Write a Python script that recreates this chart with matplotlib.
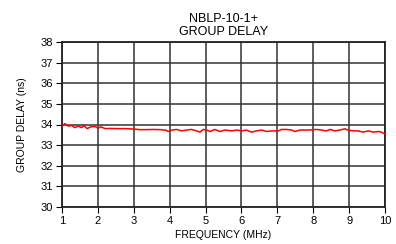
import matplotlib
matplotlib.use("Agg")
import matplotlib.pyplot as plt

plt.rcParams['font.family'] = ['Liberation Sans', 'DejaVu Sans']

freq = [1.00, 1.08, 1.18, 1.27, 1.36, 1.45, 1.55, 1.61, 1.70, 1.80, 1.92, 2.01, 2.08,
        2.20, 2.34, 2.52, 2.75, 2.99, 3.17, 3.36, 3.54, 3.73, 3.90,
        3.96, 4.06, 4.19, 4.33, 4.47, 4.61, 4.75, 4.84, 4.94, 5.03, 5.12, 5.26,
        5.40, 5.54, 5.73, 5.87, 6.01, 6.14, 6.28, 6.42, 6.56, 6.70, 6.84,
        6.93, 7.03, 7.12, 7.26, 7.40, 7.49, 7.63, 7.77, 7.96, 8.09, 8.23, 8.37,
        8.47, 8.60, 8.74, 8.88, 8.97, 9.11, 9.25, 9.39, 9.53, 9.67, 9.81, 9.90, 10.0]
delay = [33.93, 34.04, 33.92, 33.95, 33.85, 33.92, 33.85, 33.95, 33.80, 33.89, 33.90, 33.82, 33.89,
         33.80, 33.81, 33.80, 33.80, 33.78, 33.75, 33.75, 33.76, 33.75, 33.72,
         33.66, 33.73, 33.76, 33.69, 33.73, 33.76, 33.69, 33.63, 33.76, 33.73, 33.66, 33.76,
         33.66, 33.73, 33.69, 33.73, 33.69, 33.73, 33.63, 33.69, 33.73, 33.66, 33.69,
         33.69, 33.69, 33.76, 33.76, 33.73, 33.66, 33.73, 33.73, 33.74, 33.76, 33.73, 33.69,
         33.76, 33.69, 33.73, 33.79, 33.73, 33.69, 33.69, 33.63, 33.69, 33.63, 33.66, 33.63, 33.53]

xticks = [1, 2, 3, 4, 5, 6, 7, 8, 9, 10]
yticks = [30, 31, 32, 33, 34, 35, 36, 37, 38]

fig = plt.figure(figsize=(3.96, 2.44), dpi=100)
ax = fig.add_axes([62/396, 1-207/244, (385-62)/396, (207-42)/244])
ax.plot(freq, delay, color='#ff0000', linewidth=1.1, zorder=3)
ax.set_xlim(1, 10)
ax.set_ylim(30, 38)
ax.set_xticks(xticks)
ax.set_yticks(yticks)
ax.grid(True, color='#333333', linewidth=1.1)
ax.tick_params(direction='out', length=4, width=0.8, labelsize=8, pad=2.5,
               top=False, right=False)
for s in ax.spines.values():
    s.set_linewidth(1.3)
    s.set_color('#222222')
ax.set_xlabel('FREQUENCY (MHz)', fontsize=7.5, labelpad=3)
ax.set_ylabel('GROUP DELAY (ns)', fontsize=7.5, labelpad=10)
ax.set_title('NBLP-10-1+\nGROUP DELAY', fontsize=9, pad=5, linespacing=1.1)
fig.savefig('out.png', dpi=100)
